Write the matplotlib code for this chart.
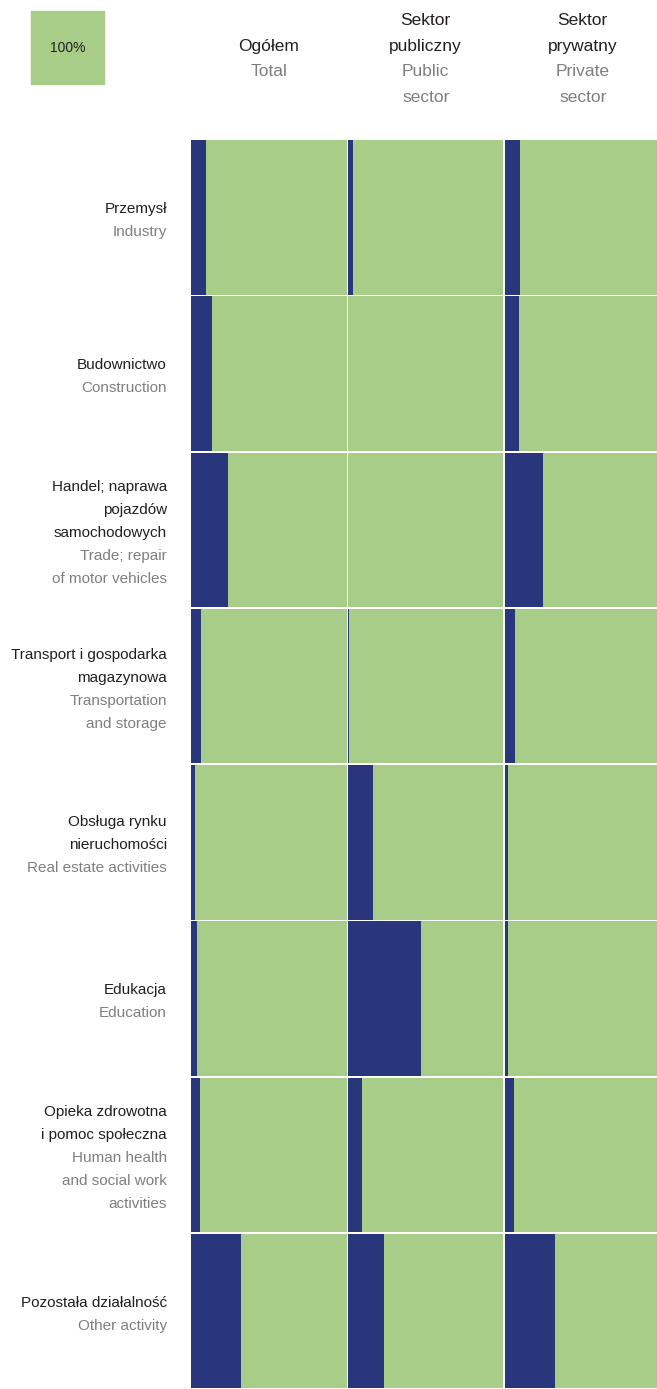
import matplotlib.pyplot as plt

# data: share (%) shown as navy bar in each cell
rows_pl = ['Przemysł', 'Budownictwo', 'Handel; naprawa\npojazdów\nsamochodowych',
           'Transport i gospodarka\nmagazynowa', 'Obsługa rynku\nnieruchomości',
           'Edukacja', 'Opieka zdrowotna\ni pomoc społeczna', 'Pozostała działalność']
rows_en = ['Industry', 'Construction', 'Trade; repair\nof motor vehicles',
           'Transportation\nand storage', 'Real estate activities',
           'Education', 'Human health\nand social work\nactivities', 'Other activity']
cols_pl = ['Ogółem', 'Sektor\npubliczny', 'Sektor\nprywatny']
cols_en = ['Total', 'Public\nsector', 'Private\nsector']

total = [9.6, 13.5, 24.0, 6.5, 2.6, 3.9, 5.8, 32.0]
public = [3.3, 0.0, 0.0, 0.7, 16.0, 47.0, 9.0, 23.0]
private = [9.7, 9.0, 24.5, 6.5, 2.0, 2.0, 6.0, 32.0]
values = [total, public, private]

navy = '#2a367b'
green = '#a8cd88'
dark = '#231f20'
grey = '#7f7f7f'
fonts = ['Liberation Sans', 'DejaVu Sans']

W, H = 657, 1389
fig = plt.figure(figsize=(W / 100, H / 100), dpi=100)


def fx(x):
    return x / W


def fy(y):
    return 1 - y / H


top, bottom = 139.3, 1389.3
col_left = [191, 348, 505]
col_w = 155.5

for i, vals in enumerate(values):
    ax = fig.add_axes([fx(col_left[i]), fy(bottom), col_w / W, (bottom - top) / H])
    ypos = list(range(len(vals)))
    ax.barh(ypos, [100] * len(vals), height=0.988, color=green, linewidth=0)
    ax.barh(ypos, vals, height=0.988, color=navy, linewidth=0)
    ax.set_xlim(0, 100)
    ax.set_ylim(len(vals) - 0.5, -0.5)
    ax.axis('off')


def block(x, yc, pl, en, size, lh, ha):
    lines = [(s, dark) for s in pl.split('\n')] + [(s, grey) for s in en.split('\n')]
    n = len(lines)
    for k, (s, c) in enumerate(lines):
        y = yc + (k - (n - 1) / 2) * lh
        fig.text(fx(x), fy(y), s, color=c, fontsize=size, ha=ha, va='center',
                 family=fonts)


row_h = (bottom - top) / len(rows_pl)
for r in range(len(rows_pl)):
    yc = top + (r + 0.5) * row_h + 3
    block(167, yc, rows_pl[r], rows_en[r], 11, 23, 'right')

for i in range(len(cols_pl)):
    block(col_left[i] + col_w / 2, 59, cols_pl[i], cols_en[i], 12.5, 25.5, 'center')

# legend box
fig.patches.append(plt.Rectangle((fx(31), fy(84)), 73 / W, 73 / H, color=green,
                                 transform=fig.transFigure, figure=fig))
fig.text(fx(67.5), fy(48), '100%', color=dark, fontsize=10, ha='center', va='center',
         family=fonts)

fig.savefig('out.png', dpi=100, facecolor='white')
